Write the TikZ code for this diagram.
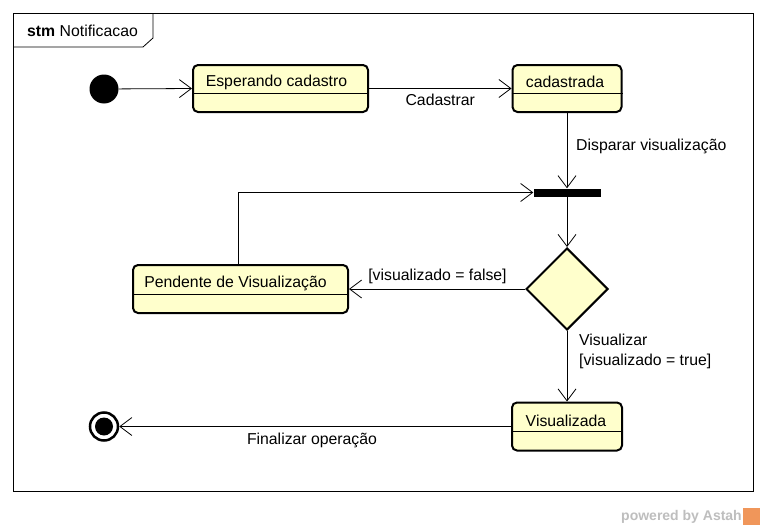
\documentclass[tikz,border=0pt]{standalone}
\usepackage{fontspec}
\setmainfont{Liberation Sans}
\usetikzlibrary{arrows.meta,shapes.geometric,calc}
\definecolor{stfill}{RGB}{255,255,204}
\definecolor{astahgray}{RGB}{190,190,190}
\definecolor{astahorange}{RGB}{240,150,90}
\begin{document}
\begin{tikzpicture}[x=1pt,y=-1pt,
  every node/.style={font=\fontsize{15.8}{19}\selectfont},
  statebox/.style={draw, line width=2pt, fill=stfill, rounded corners=5pt, inner sep=0pt},
  lbl/.style={inner sep=0pt},
  arr/.style={line width=0.8pt, -{Straight Barb[length=12pt,width=18pt,line width=0.8pt]}},
  divider/.style={line width=0.8pt}
]
\useasboundingbox (0,0) rectangle (766,530);
\fill[white] (0,0) rectangle (766,530);
% frame
\draw[line width=0.8pt] (13,13) rectangle (753,491);
\draw[line width=0.8pt] (13,47) -- (143,47) -- (153,38) -- (153,13);
\node[lbl, anchor=west] (title) at (27,31) {\textbf{stm} Notificacao};

% states
\node[statebox, minimum width=175pt, minimum height=47pt] (esp) at (280.5,88.5) {};
\draw[divider] ([yshift=-29pt]esp.north west) -- ([yshift=-29pt]esp.north east);
\node[lbl] (espt) at ([xshift=-4pt,yshift=-18pt]esp.north) {Esperando cadastro};

\node[statebox, minimum width=109pt, minimum height=47pt] (cad) at (567,88.5) {};
\draw[divider] ([yshift=-29pt]cad.north west) -- ([yshift=-29pt]cad.north east);
\node[lbl] (cadt) at ([xshift=-2pt,yshift=-18pt]cad.north) {cadastrada};

\node[statebox, minimum width=215pt, minimum height=48pt] (pend) at (240.5,289) {};
\draw[divider] ([yshift=-30pt]pend.north west) -- ([yshift=-30pt]pend.north east);
\node[lbl] (pendt) at ([xshift=-5pt,yshift=-19pt]pend.north) {Pendente de Visualização};

\node[statebox, minimum width=110pt, minimum height=48pt] (vis) at (567,426.5) {};
\draw[divider] ([yshift=-30pt]vis.north west) -- ([yshift=-30pt]vis.north east);
\node[lbl] (vist) at ([xshift=-1pt,yshift=-19pt]vis.north) {Visualizada};

% pseudo states
\node[circle, fill=black, minimum size=29pt, inner sep=0pt] (init) at (104,89) {};
\node[circle, draw, line width=2.5pt, fill=white, minimum size=28pt, inner sep=0pt] (fin) at (104,426.5) {};
\fill[black] (fin.center) circle (9pt);
\node[rectangle, fill=black, minimum width=67pt, minimum height=8pt, inner sep=0pt] (bar) at (567,192.5) {};
\node[diamond, draw, line width=2pt, fill=stfill, minimum width=82pt, minimum height=82pt, inner sep=0pt] (dec) at (567,289) {};

% transitions
\draw[arr] (init) -- (esp.west);
\draw[arr] (esp.east) -- node[lbl, below=5pt] (l1) {Cadastrar} (cad.west);
\draw[arr] (cad.south) -- (bar.north);
\node[lbl, anchor=west] (l2) at (576,146) {Disparar visualização};
\draw[arr] ([xshift=-2.5pt]pend.north) |- (bar.west);
\draw[arr] (bar.south) -- (dec.north);
\draw[arr] (dec.west) -- (pend.east);
\node[lbl] (l3) at (437.5,276) {[visualizado = false]};
\draw[arr] (dec.south) -- (vis.north);
\node[lbl, anchor=north west, align=left, font=\fontsize{15.8}{20}\selectfont] (l4) at (579,334) {Visualizar\\{}[visualizado = true]};
\draw[arr] (vis.west) -- (fin.east);
\node[lbl] (l5) at (312,440) {Finalizar operação};

% watermark
\node[lbl, anchor=east, text=astahgray, font=\fontsize{14}{16}\selectfont\bfseries] (pw) at (742,517) {powered by Astah};
\fill[astahorange] (743,508) rectangle (760,525);
\end{tikzpicture}
\end{document}
